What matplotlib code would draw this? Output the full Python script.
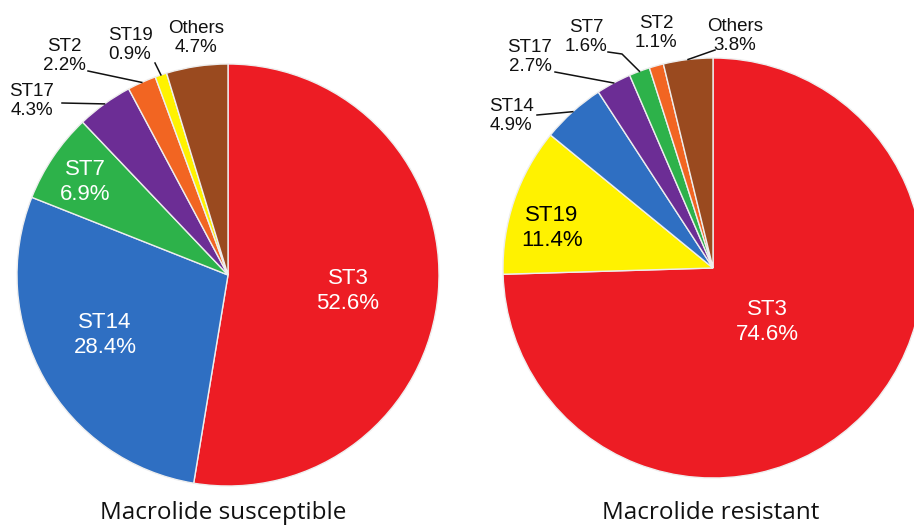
import numpy as np
import matplotlib.pyplot as plt

W, H = 914, 526

# sequence types, listed clockwise from 12 o'clock
susc_types = ['ST3', 'ST14', 'ST7', 'ST17', 'ST2', 'ST19', 'Others']
susc_pct = [52.6, 28.4, 6.9, 4.3, 2.2, 0.9, 4.7]
res_types = ['ST3', 'ST19', 'ST14', 'ST17', 'ST7', 'ST2', 'Others']
res_pct = [74.6, 11.4, 4.9, 2.7, 1.6, 1.1, 3.8]

st_colors = {
    'ST3': '#ed1c24',
    'ST14': '#2f6fc2',
    'ST7': '#2db24a',
    'ST17': '#6c2d95',
    'ST2': '#f26522',
    'ST19': '#fff200',
    'Others': '#9a4a1f',
}

# label placement in pixels from the top-left corner
# (x, y, inside, leader)
susc_layout = {
    'ST3': (348, 291, True, False),
    'ST14': (105, 335, True, False),
    'ST7': (85, 182, True, False),
    'ST17': (32, 101, False, True),
    'ST2': (64, 56, False, True),
    'ST19': (130, 45, False, True),
    'Others': (196, 38, False, False),
}
res_layout = {
    'ST3': (767, 322, True, False),
    'ST19': (552, 228, True, False),
    'ST14': (511, 116, False, True),
    'ST17': (530, 57, False, True),
    'ST7': (586, 37, False, True),
    'ST2': (656, 33, False, False),
    'Others': (735, 36, False, True),
}
# where each leader line leaves its label
susc_leader_start = {'ST17': [(62, 103)], 'ST2': [(88, 71)], 'ST19': [(155, 63)]}
res_leader_start = {'ST14': [(537, 115)], 'ST17': [(555, 72)],
                    'ST7': [(608, 52), (622, 54)], 'Others': [(715, 50)]}


def draw_pie(ax, types, pct, cx, cy, r, layout, leaders):
    wedges, _ = ax.pie(pct, colors=[st_colors[t] for t in types],
                       startangle=90, counterclock=False,
                       center=(cx, H - cy), radius=r,
                       wedgeprops=dict(edgecolor='#eeeeee', linewidth=1))
    for w, t, p in zip(wedges, types, pct):
        x, y, inside, leader = layout[t]
        txt = f'{t}\n{p:.1f}%'
        if inside:
            col = 'black' if t == 'ST19' else 'white'
            ax.text(x, H - y, txt, ha='center', va='center', fontsize=16,
                    color=col, linespacing=1.2, family='Liberation Sans')
        else:
            ax.text(x, H - y, txt, ha='center', va='center', fontsize=13.5,
                    color='#111111', linespacing=1.15, family='Liberation Sans')
        if leader:
            mid = np.deg2rad((w.theta1 + w.theta2) / 2)
            px = [pt[0] for pt in leaders[t]] + [w.center[0] + w.r * np.cos(mid)]
            py = [H - pt[1] for pt in leaders[t]] + [w.center[1] + w.r * np.sin(mid)]
            ax.plot(px, py, color='#111111', lw=1.1)


fig = plt.figure(figsize=(W / 100, H / 100), dpi=100)
ax = fig.add_axes([0, 0, 1, 1])

draw_pie(ax, susc_types, susc_pct, 228, 275, 211, susc_layout, susc_leader_start)
draw_pie(ax, res_types, res_pct, 713, 268, 210, res_layout, res_leader_start)

ax.text(223, H - 519, 'Macrolide susceptible', ha='center', va='baseline',
        fontsize=17.5, family='Open Sans', color='#111111')
ax.text(711, H - 519, 'Macrolide resistant', ha='center', va='baseline',
        fontsize=17.5, family='Open Sans', color='#111111')

ax.set_xlim(0, W)
ax.set_ylim(0, H)
ax.set_aspect('auto')
ax.axis('off')

fig.savefig('out.png', dpi=100)
